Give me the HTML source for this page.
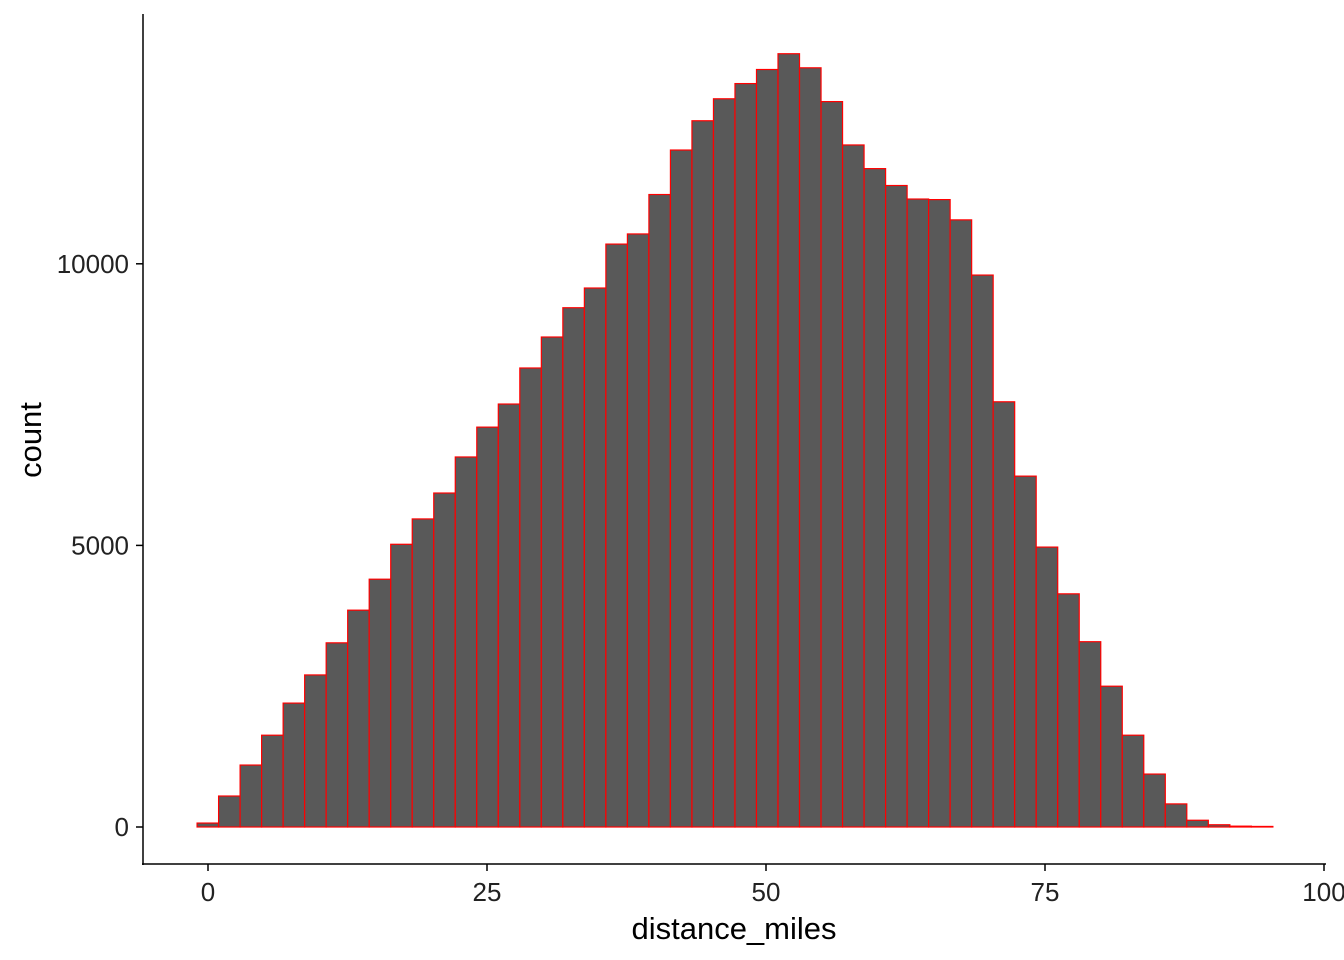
<!DOCTYPE html>
<html><head><meta charset="utf-8"><style>
html,body{margin:0;padding:0;background:#fff;}
svg{display:block;font-family:"Liberation Sans",sans-serif;}
</style></head><body>
<svg id="chart" width="1344" height="960">
<g id="bars"></g>
<line x1="143" y1="14" x2="143" y2="865" stroke="#000" stroke-width="1.5"/>
<line x1="142" y1="864" x2="1326" y2="864" stroke="#000" stroke-width="1.5"/>
<g id="xt"></g>
<g id="yt"></g>
<text x="734" y="939" font-size="31" text-anchor="middle">distance_miles</text>
<text transform="translate(41,440) rotate(-90)" font-size="31" text-anchor="middle">count</text>
</svg>
<script>
const binStart = -0.98;
const binWidth = 1.928;
const counts = [70,550,1100,1630,2200,2700,3270,3850,4400,5020,5470,5930,6570,7100,7510,8150,8700,9220,9570,10350,10530,11230,12020,12540,12930,13200,13450,13730,13480,12880,12110,11690,11390,11150,11140,10780,9800,7550,6230,4970,4140,3290,2500,1630,940,410,120,40,15,10];
const xTicks = [0,25,50,75,100];
const yTicks = [0,5000,10000];
const NS="http://www.w3.org/2000/svg";
function sx(v){return 208+v*11.16;}
function sy(v){return 827-v*0.05632;}
const bars=document.getElementById('bars');
counts.forEach((c,i)=>{
  const r=document.createElementNS(NS,'rect');
  const x0=sx(binStart+i*binWidth), x1=sx(binStart+(i+1)*binWidth);
  r.setAttribute('x',x0);r.setAttribute('width',x1-x0);
  r.setAttribute('y',sy(c));r.setAttribute('height',sy(0)-sy(c));
  r.setAttribute('fill','#595959');r.setAttribute('stroke','#ff0000');r.setAttribute('stroke-width','1.2');
  
  
  bars.appendChild(r);
});
const xt=document.getElementById('xt');
xTicks.forEach(t=>{
  const l=document.createElementNS(NS,'line');
  l.setAttribute('x1',sx(t));l.setAttribute('x2',sx(t));l.setAttribute('y1',864);l.setAttribute('y2',871);l.setAttribute('stroke','#000');l.setAttribute('stroke-width','1.5');
  
  
  xt.appendChild(l);
  const s=document.createElementNS(NS,'text');
  s.setAttribute('x',sx(t));s.setAttribute('y',901);s.setAttribute('text-anchor','middle');s.setAttribute('font-size','26');s.setAttribute('fill','#222');
  s.textContent=t;
  
  
  xt.appendChild(s);
});
const yt=document.getElementById('yt');
yTicks.forEach(t=>{
  const l=document.createElementNS(NS,'line');
  l.setAttribute('x1',136);l.setAttribute('x2',143);l.setAttribute('y1',sy(t));l.setAttribute('y2',sy(t));l.setAttribute('stroke','#000');l.setAttribute('stroke-width','1.5');
  
  
  yt.appendChild(l);
  const s=document.createElementNS(NS,'text');
  s.setAttribute('x',129);s.setAttribute('y',sy(t)+9);s.setAttribute('text-anchor','end');s.setAttribute('font-size','26');s.setAttribute('fill','#222');
  s.textContent=t;
  
  
  yt.appendChild(s);
});
</script>
</body></html>
